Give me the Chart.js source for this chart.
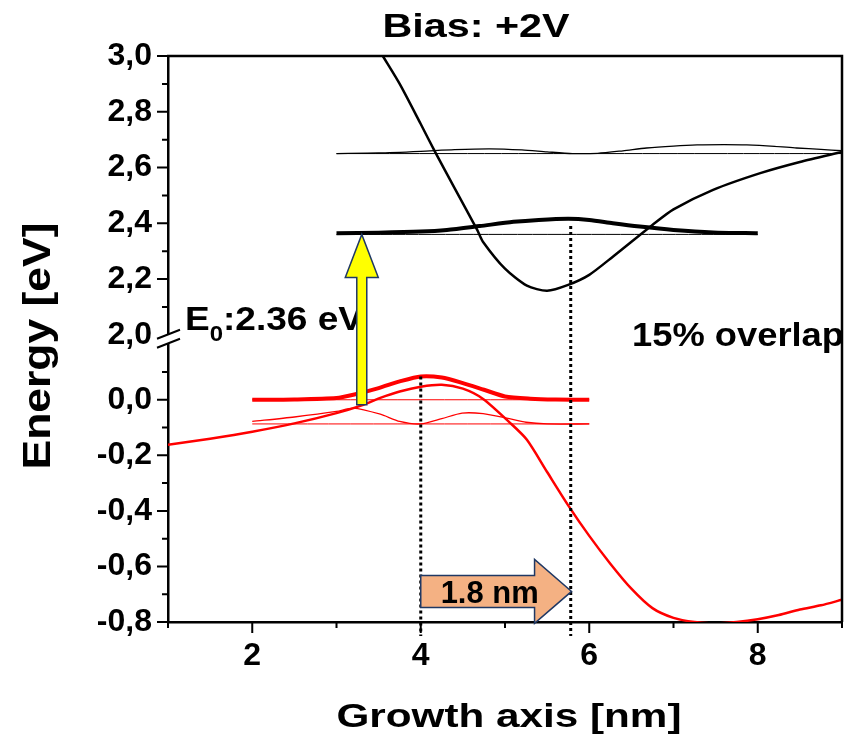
<!DOCTYPE html>
<html lang="en">
<head>
<meta charset="UTF-8" />
<title>Bias: +2V</title>
<style>
  body { margin: 0; background: #fff; }
  #wrap { width: 848px; height: 744px; }
</style>
</head>
<body>
<div id="wrap"><canvas id="chart" width="848" height="744"></canvas></div>
<script src="https://cdn.jsdelivr.net/npm/chart.js"></script>
<script>
// conduction band potential (upper panel, eV)
const cbX = [3.45, 3.55, 3.75, 4.0, 4.17, 4.4, 4.67, 4.74, 5.0, 5.26, 5.5, 5.75, 6.0, 6.28, 6.75, 7.0, 7.47, 8.03, 8.5, 9.0];
const cbY = [3.05, 3.0, 2.9, 2.756, 2.656, 2.527, 2.376, 2.333, 2.237, 2.176, 2.158, 2.179, 2.215, 2.28, 2.394, 2.45, 2.52, 2.58, 2.62, 2.656];

// electron ground state (thick) and excited state (thin)
const e1Level = 2.36, e1From = 3, e1To = 8;
const e1X = [3, 3.5, 4.0, 4.31, 4.7, 5.1, 5.4, 5.75, 6.0, 6.28, 6.6, 7.0, 7.47, 8.0];
const e1Y = [2.364, 2.366, 2.37, 2.376, 2.39, 2.405, 2.412, 2.416, 2.412, 2.4, 2.388, 2.376, 2.367, 2.364];
const e2Level = 2.65, e2From = 3, e2To = 9;
const e2X = [3, 3.5, 4, 4.4, 4.82, 5.2, 5.5, 5.8, 6.1, 6.4, 6.68, 7.0, 7.28, 7.6, 7.87, 8.2, 8.46, 8.75, 9];
const e2Y = [2.65, 2.652, 2.658, 2.664, 2.667, 2.663, 2.656, 2.65, 2.651, 2.66, 2.67, 2.677, 2.681, 2.682, 2.681, 2.676, 2.67, 2.665, 2.66];

// valence band potential (lower panel, eV)
const vbX = [1, 1.5, 2, 2.5, 3, 3.3, 3.52, 3.75, 4.0, 4.25, 4.5, 4.74, 5.06, 5.26, 5.5, 5.75, 6.0, 6.25, 6.5, 6.75, 7.0, 7.25, 7.5, 7.75, 8.0, 8.25, 8.5, 8.75, 9.0];
const vbY = [-0.162, -0.14, -0.115, -0.085, -0.048, -0.02, 0.007, 0.03, 0.047, 0.054, 0.04, 0.003, -0.083, -0.144, -0.26, -0.38, -0.49, -0.59, -0.68, -0.75, -0.785, -0.8, -0.805, -0.8, -0.79, -0.775, -0.755, -0.74, -0.72];

// hole ground state (thick) and excited state (thin)
const holeFrom = 2, holeTo = 6;
const h1Level = 0;
const h1X = [2, 2.5, 3, 3.2, 3.5, 3.75, 4.0, 4.25, 4.5, 4.75, 5.0, 5.3, 5.6, 6.0];
const h1Y = [0, 0.001, 0.006, 0.018, 0.042, 0.066, 0.084, 0.08, 0.06, 0.036, 0.012, 0.004, 0.001, 0];
const h2Level = -0.087;
const h2X = [2, 2.5, 3.0, 3.2, 3.52, 3.75, 4.0, 4.25, 4.49, 4.74, 5.02, 5.25, 5.5, 6.0];
const h2Y = [-0.078, -0.062, -0.042, -0.03, -0.052, -0.078, -0.087, -0.068, -0.048, -0.05, -0.066, -0.081, -0.087, -0.087];

// annotations
const gapX = 3.3, gapFrom = -0.018, gapTo = 2.36;
const peakHoleX = 4.0, peakHoleY = 0.084;
const peakElecX = 5.78, peakElecY = 2.39;
const shiftFrom = 4.0, shiftTo = 5.79, shiftY = -0.69;

const FONT = '"Liberation Sans", Arial, Helvetica, sans-serif';

function pts(xs, ys) { return xs.map((x, i) => ({ x: x, y: ys[i] })); }
function flat(a, b, v) { return [{ x: a, y: v }, { x: b, y: v }]; }
function line(data, axis, color, width) {
  return { data: data, yAxisID: axis, borderColor: color, borderWidth: width, pointRadius: 0, fill: false, tension: 0.25 };
}

// text stretched to a given width
function fitText(ctx, str, x, y, size, width, align) {
  ctx.save();
  ctx.font = 'bold ' + size + 'px ' + FONT;
  const sx = width / ctx.measureText(str).width;
  ctx.translate(x, y);
  ctx.scale(sx, 1);
  ctx.textAlign = align;
  ctx.textBaseline = 'alphabetic';
  ctx.fillStyle = '#000';
  ctx.fillText(str, 0, 0);
  ctx.restore();
}

function poly(ctx, p, fill, stroke) {
  ctx.beginPath();
  ctx.moveTo(p[0][0], p[0][1]);
  for (let i = 1; i < p.length; i++) ctx.lineTo(p[i][0], p[i][1]);
  ctx.closePath();
  ctx.fillStyle = fill;
  ctx.fill();
  ctx.lineWidth = 1.5;
  ctx.strokeStyle = stroke;
  ctx.stroke();
}

const decor = {
  id: 'decor',
  afterDatasetsDraw(chart) {
    const ctx = chart.ctx;
    const xs = chart.scales.x, yt = chart.scales.yTop, yb = chart.scales.yBot;
    const a = chart.chartArea;

    // dotted lines at the two wavefunction peaks
    ctx.save();
    ctx.strokeStyle = '#000';
    ctx.lineWidth = 3;
    ctx.setLineDash([3, 3]);
    ctx.beginPath();
    ctx.moveTo(xs.getPixelForValue(peakHoleX), yb.getPixelForValue(peakHoleY));
    ctx.lineTo(xs.getPixelForValue(peakHoleX), a.bottom + 14);
    ctx.moveTo(xs.getPixelForValue(peakElecX), yt.getPixelForValue(peakElecY));
    ctx.lineTo(xs.getPixelForValue(peakElecX), a.bottom + 14);
    ctx.stroke();
    ctx.restore();

    // E0 label
    ctx.save();
    ctx.font = 'bold 34px ' + FONT;
    const wE = ctx.measureText('E').width;
    const wRest = ctx.measureText(':2.36 eV').width;
    ctx.font = 'bold 22px ' + FONT;
    const w0 = ctx.measureText('0').width;
    const sx = 178 / (wE + w0 + wRest);
    ctx.translate(185, 330);
    ctx.scale(sx, 1);
    ctx.fillStyle = '#000';
    ctx.textBaseline = 'alphabetic';
    ctx.font = 'bold 34px ' + FONT;
    ctx.fillText('E', 0, 0);
    ctx.fillText(':2.36 eV', wE + w0, 0);
    ctx.font = 'bold 22px ' + FONT;
    ctx.fillText('0', wE, 11);
    ctx.restore();

    // yellow excitation arrow
    const gx = xs.getPixelForValue(gapX);
    const g0 = yb.getPixelForValue(gapFrom), g1 = yt.getPixelForValue(gapTo);
    poly(ctx, [[gx - 5, g0], [gx + 5, g0], [gx + 5, g1 + 43], [gx + 16.5, g1 + 43], [gx, g1],
      [gx - 16.5, g1 + 43], [gx - 5, g1 + 43]], '#ffff00', '#1f3864');

    // orange shift arrow
    const s0 = xs.getPixelForValue(shiftFrom), s1 = xs.getPixelForValue(shiftTo);
    const sy = yb.getPixelForValue(shiftY);
    const hb = s1 - 37;
    poly(ctx, [[s0, sy - 16], [hb, sy - 16], [hb, sy - 32], [s1, sy], [hb, sy + 32], [hb, sy + 16], [s0, sy + 16]],
      '#f4b183', '#1f3864');
    fitText(ctx, '1.8 nm', (s0 + hb) / 2 + 12, sy + 12, 31, 98, 'center');

    fitText(ctx, '15% overlap', 632, 346, 34, 212, 'left');
  },
  afterDraw(chart) {
    const ctx = chart.ctx;
    const xs = chart.scales.x, yt = chart.scales.yTop, yb = chart.scales.yBot;
    const a = chart.chartArea;
    ctx.save();
    ctx.strokeStyle = '#000';
    ctx.lineWidth = 2.5;
    // top and right frame
    ctx.beginPath();
    ctx.moveTo(a.left - 1, a.top);
    ctx.lineTo(a.right, a.top);
    ctx.lineTo(a.right, a.bottom);
    ctx.stroke();

    // tick marks
    ctx.lineWidth = 2;
    ctx.beginPath();
    for (let v = 1; v <= 9; v++) {
      const px = xs.getPixelForValue(v);
      ctx.moveTo(px, a.bottom);
      ctx.lineTo(px, a.bottom + (v % 2 === 0 ? 11 : 6));
    }
    for (let i = 21; i <= 30; i++) {
      const py = yt.getPixelForValue(i / 10);
      ctx.moveTo(a.left, py);
      ctx.lineTo(a.left - (i % 2 === 0 ? 11 : 6), py);
    }
    for (let i = -8; i <= 1; i++) {
      const py = yb.getPixelForValue(i / 10);
      ctx.moveTo(a.left, py);
      ctx.lineTo(a.left - (Math.abs(i) % 2 === 0 ? 11 : 6), py);
    }
    ctx.stroke();

    // axis break
    const by = yt.getPixelForValue(2.0);
    ctx.fillStyle = '#fff';
    ctx.beginPath();
    ctx.moveTo(157, by + 4); ctx.lineTo(180, by - 5); ctx.lineTo(180, by + 4); ctx.lineTo(157, by + 13);
    ctx.closePath();
    ctx.fill();
    ctx.beginPath();
    ctx.moveTo(157, by + 4); ctx.lineTo(180, by - 5);
    ctx.moveTo(157, by + 13); ctx.lineTo(180, by + 4);
    ctx.stroke();
    ctx.restore();

    // titles
    fitText(ctx, 'Bias: +2V', 476, 37, 34, 187, 'center');
    fitText(ctx, 'Growth axis [nm]', 509, 727, 34, 345, 'center');
    ctx.save();
    ctx.translate(50, 346);
    ctx.rotate(-Math.PI / 2);
    fitText(ctx, 'Energy [eV]', 0, 0, 38, 247, 'center');
    ctx.restore();
  }
};

function commaLabel(v, lo, hi) {
  const t = Math.round(v * 10);
  if (Math.abs(v * 10 - t) > 1e-6 || t % 2 !== 0 || v < lo - 1e-6 || v > hi + 1e-6) return '';
  return (t / 10).toFixed(1).replace('.', ',');
}

const tickFont = { family: FONT, size: 32, weight: 'bold' };
const axisBorder = { display: true, color: '#000', width: 2.5 };

new Chart(document.getElementById('chart'), {
  type: 'line',
  data: {
    datasets: [
      line(pts(e1X, e1Y), 'yTop', '#000', 4),
      line(pts(cbX, cbY), 'yTop', '#000', 2.5),
      line(pts(e2X, e2Y), 'yTop', '#000', 1.3),
      line(flat(e2From, e2To, e2Level), 'yTop', '#000', 1),
      line(flat(e1From, e1To, e1Level), 'yTop', '#000', 1),
      line(pts(h1X, h1Y), 'yBot', '#ff0000', 4),
      line(pts(vbX, vbY), 'yBot', '#ff0000', 2.5),
      line(pts(h2X, h2Y), 'yBot', '#ff0000', 1.3),
      line(flat(holeFrom, holeTo, h1Level), 'yBot', '#ff0000', 1),
      line(flat(holeFrom, holeTo, h2Level), 'yBot', '#ff0000', 1)
    ]
  },
  options: {
    responsive: false,
    animation: false,
    layout: { padding: { top: 56, right: 6, left: 0, bottom: 0 } },
    plugins: { legend: { display: false }, tooltip: { enabled: false } },
    scales: {
      x: {
        type: 'linear', position: 'bottom', min: 1, max: 9,
        grid: { display: false, drawTicks: false },
        border: axisBorder,
        ticks: {
          stepSize: 1, autoSkip: false, maxRotation: 0, padding: 15, color: '#000', font: tickFont,
          callback: v => (v % 2 === 0 ? String(v) : '')
        },
        afterFit: s => { s.height = 122; s.paddingLeft = 0; s.paddingRight = 0; }
      },
      yTop: {
        type: 'linear', position: 'left', stack: 'energy', stackWeight: 279, weight: 2,
        min: 2, max: 3,
        grid: { display: false, drawTicks: false },
        border: axisBorder,
        ticks: { stepSize: 0.1, autoSkip: false, padding: 16, color: '#000', font: tickFont,
          callback: v => commaLabel(v, 2, 3) },
        afterFit: s => { s.width = 168; }
      },
      yBot: {
        type: 'linear', position: 'left', stack: 'energy', stackWeight: 287.5, weight: 1,
        min: -0.8, max: 0.234,
        grid: { display: false, drawTicks: false },
        border: axisBorder,
        ticks: { stepSize: 0.1, autoSkip: false, padding: 16, color: '#000', font: tickFont,
          callback: v => commaLabel(v, -0.8, 0) },
        afterFit: s => { s.width = 168; }
      }
    }
  },
  plugins: [decor]
});
</script>
</body>
</html>
